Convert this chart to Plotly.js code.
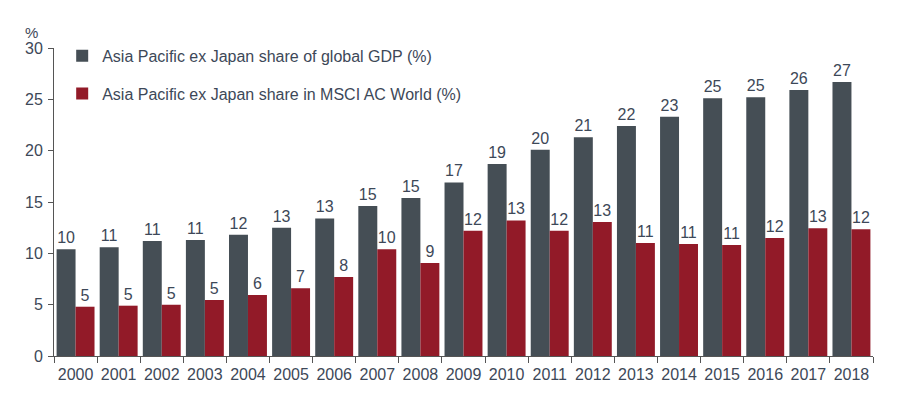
<!DOCTYPE html>
<html><head><meta charset="utf-8">
<script src="https://cdn.plot.ly/plotly-3.0.1.min.js"></script>
<style>html,body{margin:0;padding:0;background:#fff}</style>
</head><body><div id="chart" style="width:913px;height:397px"></div>
<script>
const years = ['2000','2001','2002','2003','2004','2005','2006','2007','2008','2009','2010','2011','2012','2013','2014','2015','2016','2017','2018'];
const gdpShare = [10.4,10.6,11.2,11.3,11.8,12.5,13.4,14.6,15.4,16.9,18.7,20.1,21.3,22.4,23.3,25.1,25.2,25.9,26.7];
const gdpLabels = ['10','11','11','11','12','13','13','15','15','17','19','20','21','22','23','25','25','26','27'];
const msciShare = [4.8,4.9,5.0,5.45,5.95,6.6,7.7,10.4,9.05,12.2,13.2,12.2,13.05,11.0,10.9,10.8,11.5,12.45,12.35];
const msciLabels = ['5','5','5','5','6','7','8','10','9','12','13','12','13','11','11','11','12','13','12'];

const txtColor = '#3d4858';
const font = {family:'"Liberation Sans", Arial, sans-serif', size:16, color:txtColor};

const traces = [
  {type:'bar', x:years, y:gdpShare, text:gdpLabels, textposition:'outside', cliponaxis:false,
   name:'Asia Pacific ex Japan share of global GDP (%)', legendgroup:'a',
   marker:{color:'#454e55'}, textfont:{size:16,color:txtColor}, hoverinfo:'x+y'},
  {type:'bar', x:years, y:msciShare, text:msciLabels, textposition:'outside', cliponaxis:false,
   name:'Asia Pacific ex Japan share in MSCI AC World (%)', legendgroup:'b',
   marker:{color:'#921a28'}, textfont:{size:16,color:txtColor}, hoverinfo:'x+y'}
];

const layout = {
  width:913, height:397,
  margin:{l:54, r:40, t:48, b:41},
  paper_bgcolor:'#fff', plot_bgcolor:'#fff',
  font:font,
  barmode:'group', bargap:0.12, bargroupgap:0,
  showlegend:true,
  legend:{x:0.01, y:1.03, xanchor:'left', yanchor:'top', bgcolor:'rgba(0,0,0,0)',
          traceorder:'grouped', tracegroupgap:14, font:{size:16,color:txtColor},
          itemwidth:30},
  xaxis:{type:'category', showgrid:false, zeroline:false, showline:true, linecolor:'#555',
         linewidth:1, ticks:'outside', tickson:'boundaries', ticklen:6, tickcolor:'#555',
         tickangle:0, ticklabelstandoff:4, tickfont:{size:16,color:txtColor}},
  yaxis:{range:[0,30], dtick:5, showgrid:false, zeroline:false, showline:true, linecolor:'#555',
         linewidth:1, ticks:'outside', ticklen:5, tickcolor:'#555', ticklabelstandoff:2,
         tickfont:{size:16,color:txtColor}},
  annotations:[{text:'%', xref:'paper', yref:'paper', x:-0.027, y:1.015, xanchor:'center', yanchor:'bottom',
                showarrow:false, font:{size:15,color:txtColor}}]
};
Plotly.newPlot('chart', traces, layout, {displayModeBar:false, staticPlot:true});
</script></body></html>
